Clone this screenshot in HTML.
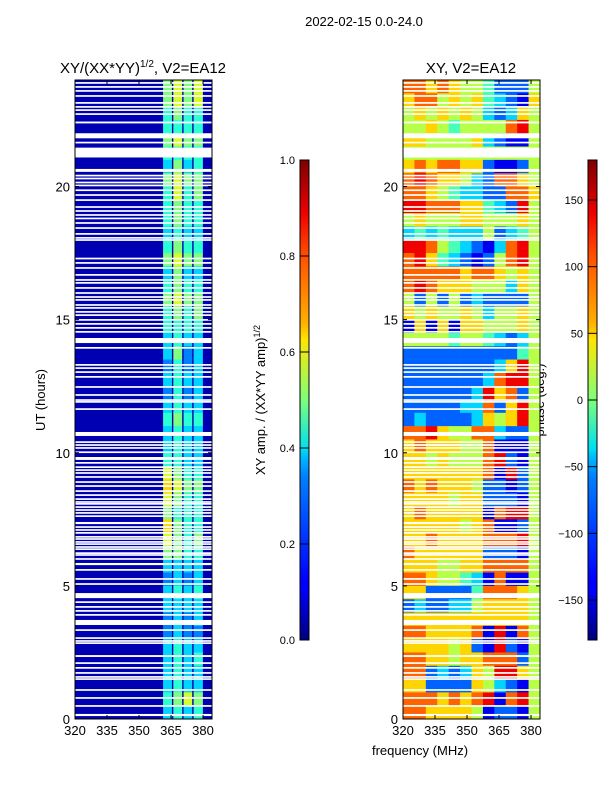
<!DOCTYPE html>
<html><head><meta charset="utf-8"><style>
html,body{margin:0;padding:0;background:#fff;}
svg{display:block;font-family:"Liberation Sans","DejaVu Sans",sans-serif;}
</style></head><body>
<svg id="fig" width="600" height="800" viewBox="0 0 600 800" xmlns="http://www.w3.org/2000/svg">
<defs>
<linearGradient id="jet" x1="0" y1="1" x2="0" y2="0">
<stop offset="0" stop-color="#00007f"/><stop offset="0.11" stop-color="#0000ff"/><stop offset="0.125" stop-color="#0000ff"/>
<stop offset="0.34" stop-color="#0080ff"/><stop offset="0.375" stop-color="#00b0ff"/><stop offset="0.4" stop-color="#00e0f0"/>
<stop offset="0.5" stop-color="#7dff7a"/><stop offset="0.625" stop-color="#ffe600"/><stop offset="0.66" stop-color="#ffb000"/>
<stop offset="0.8" stop-color="#ff5000"/><stop offset="0.89" stop-color="#ee0000"/><stop offset="1" stop-color="#7f0000"/>
</linearGradient>
</defs>
<text x="364" y="26" font-size="13" text-anchor="middle">2022-02-15 0.0-24.0</text>
<text x="143" y="73" font-size="15" text-anchor="middle">XY/(XX*YY)<tspan font-size="10" dy="-6">1/2</tspan><tspan dy="6">, V2=EA12</tspan></text>
<text x="471" y="73" font-size="15" text-anchor="middle">XY, V2=EA12</text>
<text transform="translate(45,400) rotate(-90)" font-size="13" text-anchor="middle">UT (hours)</text>
<text x="420" y="755" font-size="13" text-anchor="middle">frequency (MHz)</text>
<text transform="translate(265,400) rotate(-90)" font-size="13" text-anchor="middle">XY amp. / (XX*YY amp)<tspan font-size="9" dy="-5">1/2</tspan></text>
<text transform="translate(544,400) rotate(-90)" font-size="13" text-anchor="middle">phase (deg.)</text>
<g id="left"></g><g id="right"></g><g id="cb"></g>
</svg>
<script>
const freqMin = 320, freqMax = 384.2;
const yTicks = [0, 5, 10, 15, 20];
const xTicks = [320, 335, 350, 365, 380];
const ampTicks = [0.0, 0.2, 0.4, 0.6, 0.8, 1.0];
const phaseTicks = [-150, -100, -50, 0, 50, 100, 150];
// left panel: low band amplitude, high band 4 sub-bands (digit/12), rows top-down 0.5h each
const ampLowValue = 0.05;
const ampHighEdges = [361, 365.8, 370.6, 375.3, 380.3];
const ampHighRows = ["6767","6767","5655","5555","6766","5555","4645","6766","5756","5655","5655","4544","5655","6766","4644","5655","6766","5656","5555","4544","4634","3534","4544","3534","4544","5655","4544","4544","5544","7655","8766","7655","6555","8655","7656","6655","4444","3434","4545","4444","3434","3433","4544","4545","4544","4544","5676","4545"];
// right panel: phase, 12 channels, digit d -> -180 + 40*d, rows top-down 0.5h each
const phaseRows = ["776765542225","677565643216","565656532365","556545555785","665555632115","555555555555","676776621125","787665327765","776543322776","887776643285","565556655565","343433352345","887543213785","786432125785","777776776565","787666555365","525252322225","656556535565","161616655565","555545543235","222222222245","222222223685","222222237885","222222386725","222223372685","232222365685","778655773225","676665571115","665655578215","666666671825","767666522125","666656622215","676666617885","666665671125","667666677785","766666622215","666556677775","776554317115","662222477765","232233566665","666666666665","776666718175","666656218215","776656677725","772323658865","662222653215","777676781785","776666512215"];
// flagged (blank) time intervals in hours
const flagged = [[23.89,23.89],[23.74,23.74],[23.59,23.59],[23.40,23.40],[23.14,23.14],[22.99,22.99],[22.87,22.87],[22.72,22.72],[22.37,22.44],[21.81,22.00],[21.65,21.65],[21.09,21.46],[20.55,20.66],[20.41,20.41],[20.30,20.30],[20.15,20.15],[20.04,20.04],[19.86,19.86],[19.68,19.68],[19.49,19.49],[19.23,19.23],[19.08,19.08],[18.93,18.93],[18.78,18.82],[18.63,18.63],[18.44,18.44],[18.22,18.22],[18.07,18.07],[17.99,17.99],[17.28,17.31],[17.13,17.13],[16.94,16.94],[16.68,16.68],[16.49,16.49],[16.38,16.38],[16.19,16.19],[16.00,16.00],[15.85,15.85],[15.74,15.74],[15.55,15.55],[15.44,15.44],[15.29,15.29],[15.17,15.17],[14.99,14.99],[14.84,14.84],[14.69,14.69],[14.54,14.54],[14.12,14.31],[13.94,13.94],[13.30,13.30],[13.18,13.18],[13.03,13.03],[12.85,12.85],[12.47,12.47],[12.17,12.17],[11.98,11.98],[11.91,11.91],[11.64,11.64],[10.63,10.78],[10.40,10.40],[10.29,10.29],[10.18,10.18],[10.01,10.03],[9.73,9.84],[9.62,9.62],[9.46,9.46],[9.35,9.35],[9.24,9.24],[9.09,9.09],[8.90,8.90],[8.75,8.75],[8.56,8.56],[8.41,8.41],[8.26,8.26],[8.15,8.15],[8.08,8.08],[7.96,7.96],[7.85,7.85],[7.74,7.74],[7.62,7.62],[7.32,7.40],[7.21,7.21],[7.10,7.10],[6.99,6.99],[6.84,6.84],[6.76,6.76],[6.65,6.65],[6.57,6.57],[6.46,6.46],[6.38,6.38],[6.23,6.23],[6.16,6.16],[6.01,6.01],[5.78,5.86],[5.60,5.60],[5.26,5.26],[5.07,5.07],[4.54,4.73],[4.39,4.39],[4.21,4.21],[4.06,4.06],[3.91,3.91],[3.53,3.72],[3.34,3.34],[3.04,3.04],[2.93,2.93],[2.85,2.85],[2.33,2.40],[2.10,2.10],[1.92,1.92],[1.73,1.73],[1.58,1.58],[1.50,1.50],[1.09,1.09],[0.79,0.79],[0.49,0.49],[0.11,0.19]];

const NS = "http://www.w3.org/2000/svg";
const Y0 = 80, Y1 = 719;
function yScale(h){ return Y1 - (h/24)*(Y1-Y0); }
function makeX(x0,x1){ return f => x0 + (f-freqMin)/(freqMax-freqMin)*(x1-x0); }
function jet(v){
  v = Math.max(0, Math.min(1, v));
  const r = Math.max(0, Math.min(1, 1.5 - Math.abs(4*v-3)));
  const g = Math.max(0, Math.min(1, 1.5 - Math.abs(4*v-2)));
  const b = Math.max(0, Math.min(1, 1.5 - Math.abs(4*v-1)));
  return `rgb(${Math.round(r*255)},${Math.round(g*255)},${Math.round(b*255)})`;
}
function el(tag, attrs, parent){
  const e = document.createElementNS(NS, tag);
  for (const k in attrs) e.setAttribute(k, attrs[k]);
  parent.appendChild(e); return e;
}
const rowH = 0.5;

function drawAxes(g, x0, x1, prefix){
  const xs = makeX(x0,x1);
  const frame = el('rect',{x:x0,y:Y0,width:x1-x0,height:Y1-Y0,fill:'none',stroke:'#000','stroke-width':1},g);
  
  
  yTicks.forEach(t=>{
    const y = yScale(t);
    const tk = el('path',{d:`M${x0} ${y}h4M${x1} ${y}h-4`,stroke:'#000','stroke-width':1},g);
    
    
    const lb = el('text',{x:x0-5,y:y+5,'font-size':13,'text-anchor':'end'},g);
    lb.textContent = t;
    
    
  });
  xTicks.forEach(t=>{
    const x = xs(t);
    const tk = el('path',{d:`M${x} ${Y1}v-4M${x} ${Y0}v4`,stroke:'#000','stroke-width':1},g);
    
    
    const lb = el('text',{x:x,y:Y1+16,'font-size':13,'text-anchor':'middle'},g);
    lb.textContent = t;
    
    
  });
}
function drawFlags(g, x0, x1){
  flagged.forEach(([a,b])=>{
    const ya = yScale(b), yb = yScale(a);
    const hgt = Math.max(1.7, yb-ya);
    const r = el('rect',{x:x0,y:(ya+yb)/2-hgt/2,width:x1-x0,height:hgt,fill:'#fff'},g);
    
    
  });
}

// left panel
(function(){
  const g = document.getElementById('left');
  const x0=75, x1=212, xs=makeX(x0,x1);
  const bg = el('rect',{x:x0,y:Y0,width:x1-x0,height:Y1-Y0,fill:jet(ampLowValue)},g);
  
  
  ampHighRows.forEach((row,i)=>{
    const hTop = 24 - i*rowH, hBot = hTop - rowH;
    for (let c=0;c<row.length;c++){
      const v = parseInt(row[c])/12;
      const xa = xs(ampHighEdges[c]), xb = xs(ampHighEdges[c+1]);
      const r = el('rect',{x:xa+0.6,y:yScale(hTop),width:xb-xa-1.4,height:yScale(hBot)-yScale(hTop)+0.3,fill:jet(v)},g);
      
      
    }
  });
  drawFlags(g,x0,x1);
  drawAxes(g,x0,x1,'left');
})();
// right panel
(function(){
  const g = document.getElementById('right');
  const x0=403, x1=540, xs=makeX(x0,x1);
  phaseRows.forEach((row,i)=>{
    const hTop = 24 - i*rowH, hBot = hTop - rowH;
    const n = row.length, w = (freqMax-freqMin)/n;
    for (let c=0;c<n;c++){
      const deg = -180 + 40*parseInt(row[c]);
      const xa = xs(freqMin+c*w), xb = xs(freqMin+(c+1)*w);
      const r = el('rect',{x:xa,y:yScale(hTop),width:xb-xa+0.3,height:yScale(hBot)-yScale(hTop)+0.3,fill:jet((deg+180)/360)},g);
      
      
    }
  });
  drawFlags(g,x0,x1);
  drawAxes(g,x0,x1,'right');
})();
// colorbars
(function(){
  const g = document.getElementById('cb');
  const C0=160, C1=640;
  function bar(x, ticks, lo, hi, fmt, name){
    const r = el('rect',{x:x,y:C0,width:9,height:C1-C0,fill:'url(#jet)',stroke:'#000','stroke-width':1},g);
    
    
    ticks.forEach(t=>{
      const y = C1 - (t-lo)/(hi-lo)*(C1-C0);
      const tk = el('path',{d:`M${x} ${y}h9`,stroke:'#000','stroke-width':1},g);
      
      
      const lb = el('text',{x:x-5,y:y+4,'font-size':11,'text-anchor':'end'},g);
      lb.textContent = fmt(t);
      
      
    });
  }
  bar(300, ampTicks, 0, 1, t=>t.toFixed(1), 'amp');
  bar(588, phaseTicks, -180, 180, t=>String(t).replace('-','\u2212'), 'phase');
})();
</script>
</body></html>
